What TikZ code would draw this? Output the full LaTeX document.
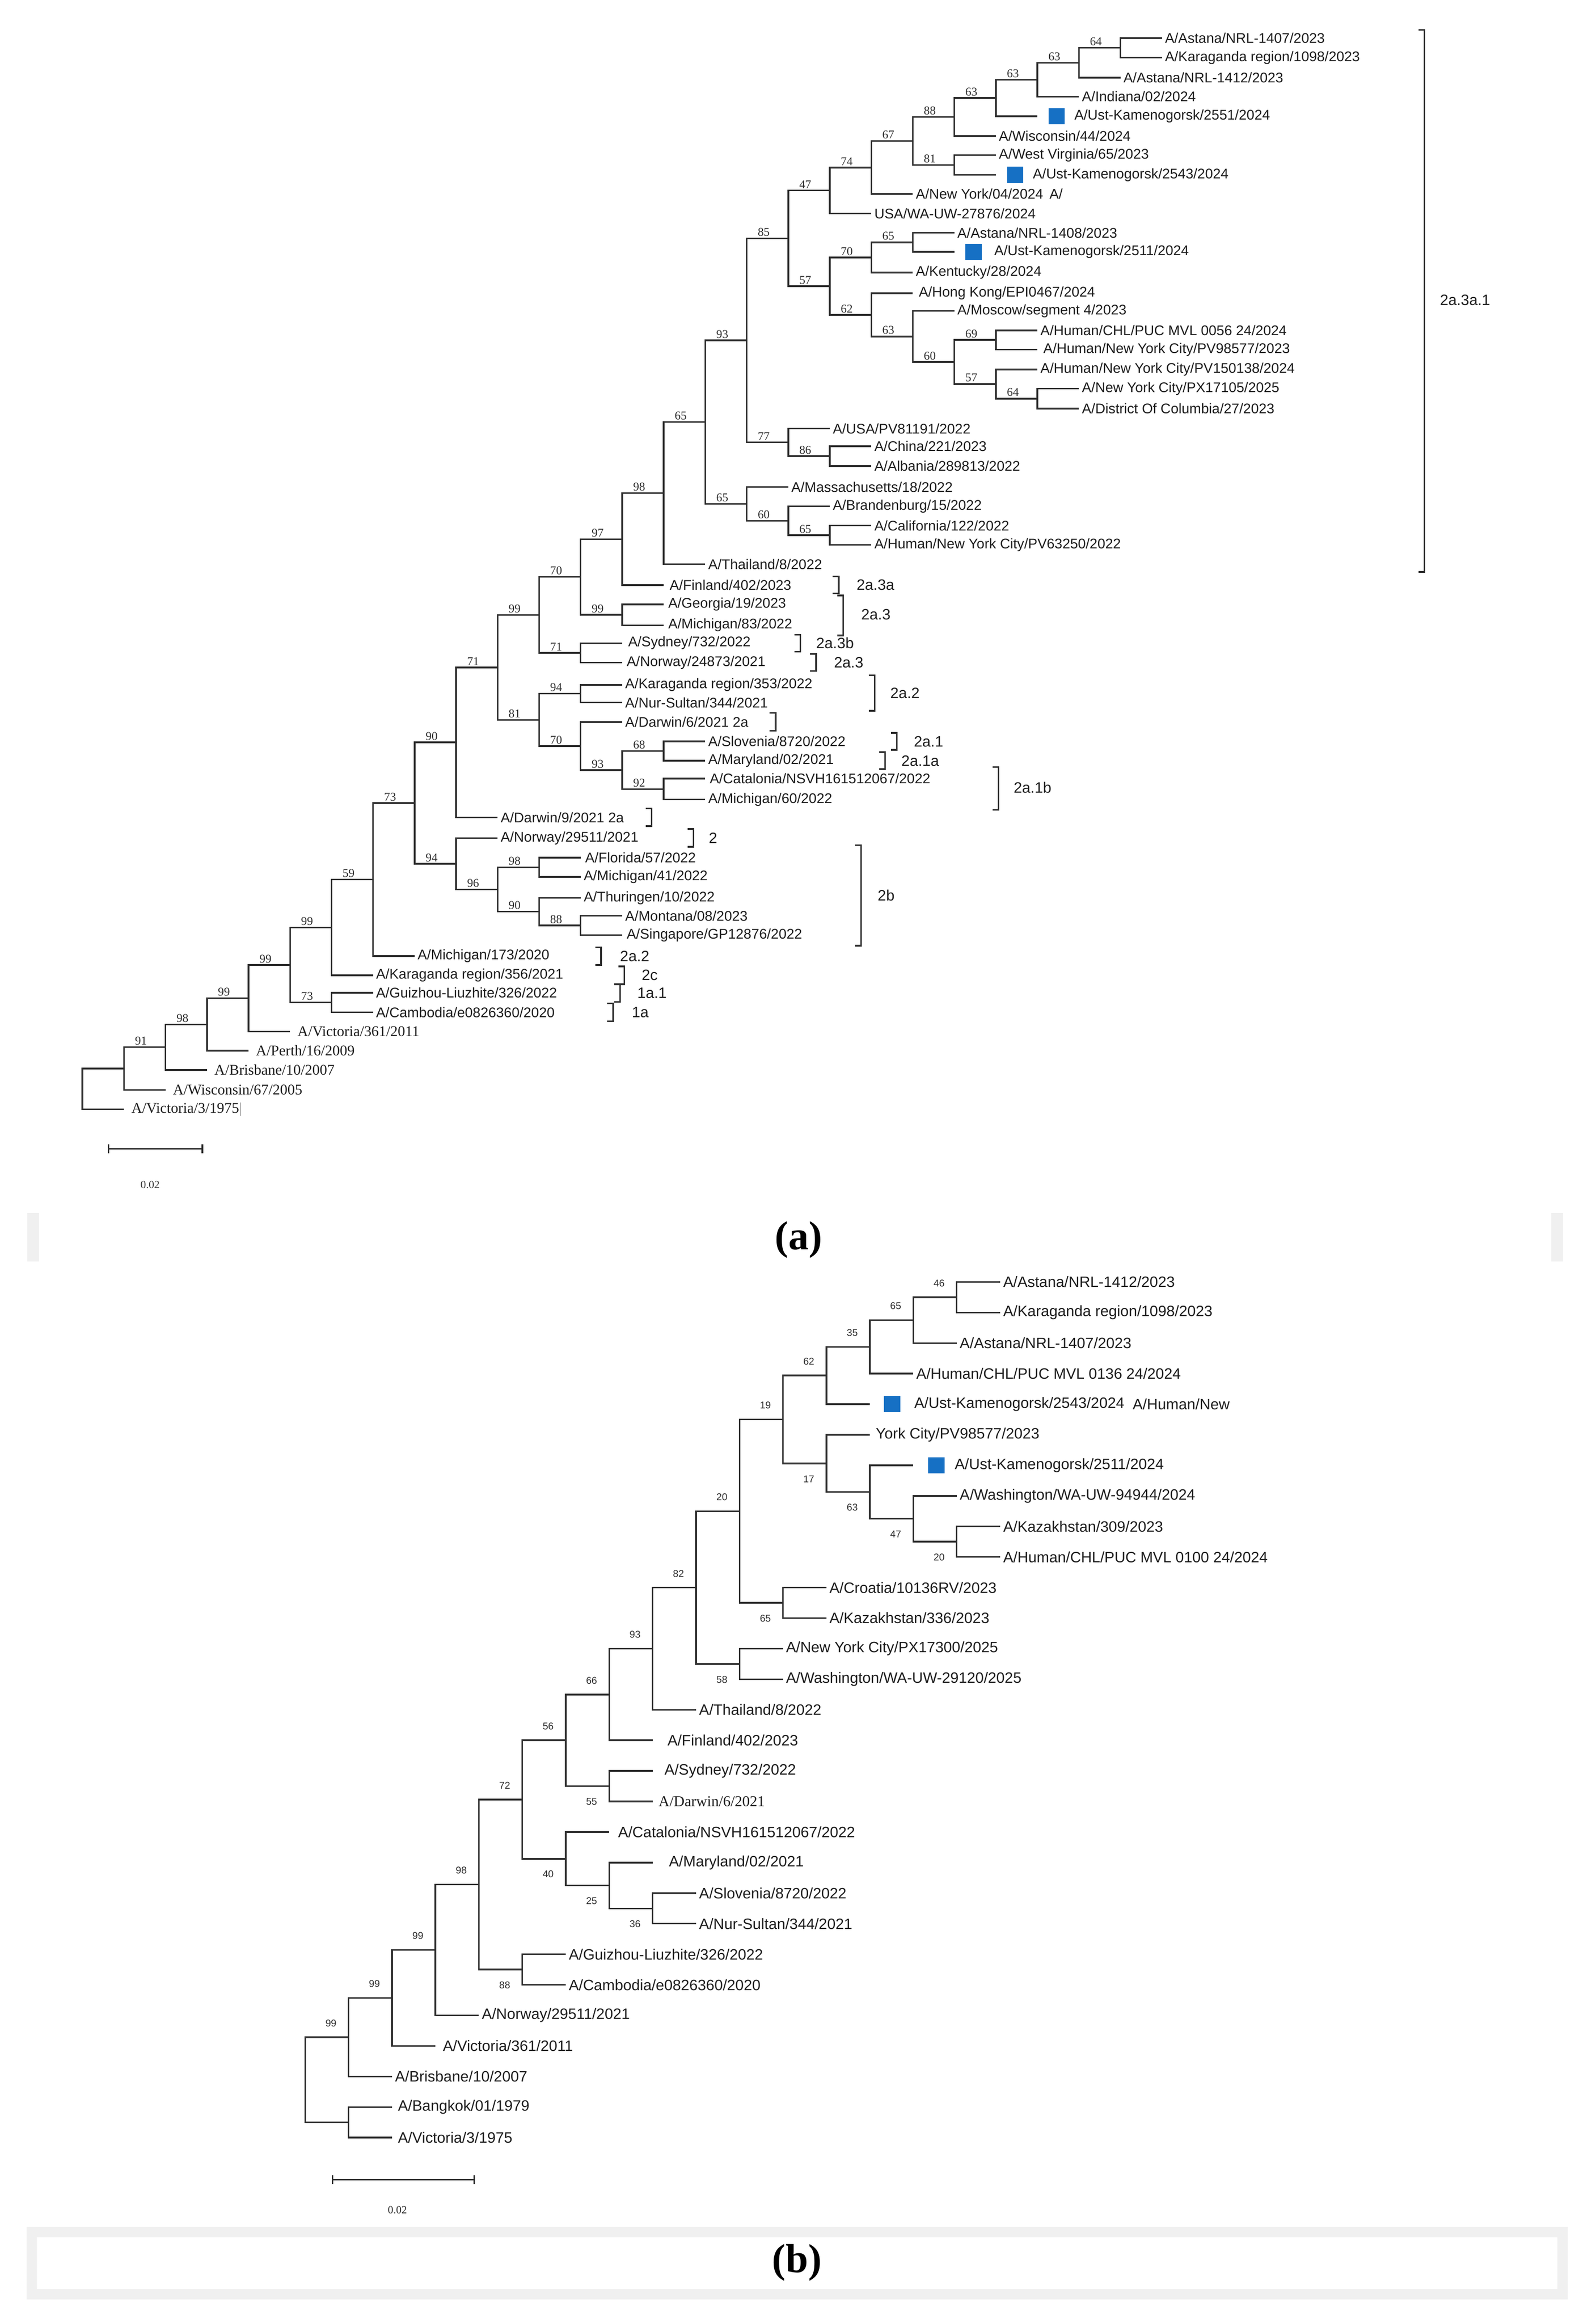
\documentclass[tikz,border=0pt]{standalone}
\usepackage{fontspec}
\setmainfont{Liberation Serif}
\setsansfont{Liberation Sans}
\usetikzlibrary{calc}
\definecolor{brc}{HTML}{2E2E2E}
\definecolor{txc}{HTML}{1E1E1E}
\definecolor{sqc}{HTML}{1670C4}
\definecolor{gbar}{HTML}{F0F0F0}
\newcommand\tXa[1]{{55.8+28.1*#1}}
\newcommand\tXb[1]{{206.5+29.4*#1}}
\newcommand\tYb[1]{{867.5+20.68*#1}}
\newcommand\tLf[5][2]{\pgfmathsetmacro\myTx{#3}\coordinate (#2) at (\myTx,#4);
  \node[lab,anchor=west] (t#2) at ([xshift=#1mm]#2) {#5};}
\newcommand\tLfS[5][5]{\pgfmathsetmacro\myTx{#3}\coordinate (#2) at (\myTx,#4);
  \node[labs,anchor=west] (t#2) at ([xshift=#1mm]#2) {#5};}
\newcommand\tSq[6]{\pgfmathsetmacro\myTx{#2}\coordinate (#1) at (\myTx,#3);
  \node[sqr] (s#1) at ([xshift=#4mm]#1) {};
  \node[lab,anchor=west] (t#1) at ([xshift=#5mm]#1) {#6};}
\newcommand\tIn[4]{\pgfmathsetmacro\myTx{#2}\path ($(#3)!.5!(#4)$) coordinate (#1m);
  \coordinate (#1) at (\myTx,0 |- #1m);}
\newcommand\tE[2]{\draw[brl] (#1) |- (#2);}
\newcommand\tEA[3]{\draw[brl] (#1) |- (#2); \node[bsa,anchor=south] at ($(#1 |- #2)+(11.5,-1.4)$) {#3};}
\newcommand\tEU[3]{\draw[brl] (#1) |- (#2); \node[bsb] at ($(#1 |- #2)+(17.5,-9.5)$) {#3};}
\newcommand\tED[3]{\draw[brl] (#1) |- (#2); \node[bsb] at ($(#1 |- #2)+(17.5,10.5)$) {#3};}
\newcommand\tBr[3]{\draw[brl] (#1-4,#2) -- (#1,#2) -- (#1,#3) -- (#1-4,#3);}
\begin{document}
\begin{tikzpicture}[x=0.1cm,y=-0.1cm,
  brl/.style={draw=brc,line width=0.11cm},
  lab/.style={inner sep=0pt,text=txc,font=\sffamily\fontsize{27}{30}\selectfont},
  labs/.style={inner sep=0pt,text=txc,font=\rmfamily\fontsize{28.5}{31}\selectfont},
  sqr/.style={fill=sqc,draw=none,inner sep=0pt,minimum width=1.1cm,minimum height=1.1cm,anchor=west},
  bsa/.style={inner sep=0pt,text=brc,font=\rmfamily\fontsize{23}{25}\selectfont},
  bsb/.style={inner sep=0pt,text=brc,font=\sffamily\fontsize{19}{21}\selectfont},
  brt/.style={inner sep=0pt,anchor=west,text=txc,font=\sffamily\fontsize{29}{31}\selectfont},
  captxt/.style={inner sep=0pt,text=black,font=\rmfamily\bfseries\fontsize{78}{80}\selectfont},
  scl/.style={inner sep=0pt,text=brc,font=\rmfamily\fontsize{21}{23}\selectfont}]
\useasboundingbox (0,0) rectangle (1080,1572);
\fill[white] (0,0) rectangle (1080,1572);
% ---------------- tree (a) leaves
\tLf{a1}{\tXa{26}}{25.8}{A/Astana/NRL-1407/2023}
\tLf{a2}{\tXa{26}}{39}{A/Karaganda region/1098/2023}
\tLf{a3}{\tXa{25}}{52.5}{A/Astana/NRL-1412/2023}
\tLf{a4}{\tXa{24}}{65.4}{A/Indiana/02/2024}
\tSq{a5}{\tXa{23}}{78.7}{7.5}{25}{A/Ust-Kamenogorsk/2551/2024}
\tLf{a6}{\tXa{22}}{92}{A/Wisconsin/44/2024}
\tLf{a7}{\tXa{22}}{105}{A/West Virginia/65/2023}
\tSq{a8}{\tXa{22}}{118.3}{7.5}{25}{A/Ust-Kamenogorsk/2543/2024}
\tLf{a9}{\tXa{20}}{131.3}{A/New York/04/2024\hspace{0.45em}A/}
\tLf{a10}{\tXa{19}}{144.5}{USA/WA-UW-27876/2024}
\tLf{a11}{\tXa{21}}{157.6}{A/Astana/NRL-1408/2023}
\tSq{a12}{\tXa{21}}{170.4}{7.5}{27}{A/Ust-Kamenogorsk/2511/2024}
\tLf{a13}{\tXa{20}}{184.5}{A/Kentucky/28/2024}
\tLf[4]{a14}{\tXa{20}}{198.5}{A/Hong Kong/EPI0467/2024}
\tLf{a15}{\tXa{21}}{210.4}{A/Moscow/segment 4/2023}
\tLf{a16}{\tXa{23}}{223.6}{A/Human/CHL/PUC MVL 0056 24/2024}
\tLf[4]{a17}{\tXa{23}}{236.5}{A/Human/New York City/PV98577/2023}
\tLf{a18}{\tXa{23}}{250}{A/Human/New York City/PV150138/2024}
\tLf{a19}{\tXa{24}}{263}{A/New York City/PX17105/2025}
\tLf{a20}{\tXa{24}}{276.5}{A/District Of Columbia/27/2023}
\tLf{a21}{\tXa{18}}{290}{A/USA/PV81191/2022}
\tLf{a22}{\tXa{19}}{302}{A/China/221/2023}
\tLf{a23}{\tXa{19}}{315.3}{A/Albania/289813/2022}
\tLf{a24}{\tXa{17}}{329.5}{A/Massachusetts/18/2022}
\tLf{a25}{\tXa{18}}{342.6}{A/Brandenburg/15/2022}
\tLf{a26}{\tXa{19}}{355.7}{A/California/122/2022}
\tLf{a27}{\tXa{19}}{368.7}{A/Human/New York City/PV63250/2022}
\tLf{a28}{\tXa{15}}{381.8}{A/Thailand/8/2022}
\tLf[4]{a29}{\tXa{14}}{395.9}{A/Finland/402/2023}
\tLf[3]{a30}{\tXa{14}}{409}{A/Georgia/19/2023}
\tLf[3]{a31}{\tXa{14}}{423.1}{A/Michigan/83/2022}
\tLf[4]{a32}{\tXa{13}}{435.2}{A/Sydney/732/2022}
\tLf[3]{a33}{\tXa{13}}{448.3}{A/Norway/24873/2021}
\tLf{a34}{\tXa{13}}{463.4}{A/Karaganda region/353/2022}
\tLf{a35}{\tXa{13}}{475.5}{A/Nur-Sultan/344/2021}
\tLf{a36}{\tXa{13}}{488.6}{A/Darwin/6/2021 2a}
\tLf{a37}{\tXa{15}}{501.7}{A/Slovenia/8720/2022}
\tLf{a38}{\tXa{15}}{514.8}{A/Maryland/02/2021}
\tLf[3]{a39}{\tXa{15}}{526.9}{A/Catalonia/NSVH161512067/2022}
\tLf{a40}{\tXa{15}}{541}{A/Michigan/60/2022}
\tLf{a41}{\tXa{10}}{553.1}{A/Darwin/9/2021 2a}
\tLf{a42}{\tXa{10}}{567.2}{A/Norway/29511/2021}
\tLf[3]{a43}{\tXa{12}}{580.4}{A/Florida/57/2022}
\tLf{a44}{\tXa{12}}{593.5}{A/Michigan/41/2022}
\tLf{a45}{\tXa{12}}{607.6}{A/Thuringen/10/2022}
\tLf{a46}{\tXa{13}}{619.7}{A/Montana/08/2023}
\tLf[3]{a47}{\tXa{13}}{632.8}{A/Singapore/GP12876/2022}
\tLf{a48}{\tXa{8}}{646.9}{A/Michigan/173/2020}
\tLf{a49}{\tXa{7}}{660}{A/Karaganda region/356/2021}
\tLf{a50}{\tXa{7}}{671.8}{A/Guizhou-Liuzhite/326/2022}
\tLf{a51}{\tXa{7}}{685}{A/Cambodia/e0826360/2020}
\tLfS{a52}{\tXa{5}}{698}{A/Victoria/361/2011}
\tLfS{a53}{\tXa{4}}{711}{A/Perth/16/2009}
\tLfS{a54}{\tXa{3}}{724}{A/Brisbane/10/2007}
\tLfS{a55}{\tXa{2}}{737.5}{A/Wisconsin/67/2005}
\tLfS{a56}{\tXa{1}}{750.7}{A/Victoria/3/1975{\color{black!40}\textbar}}
% internal (a)
\tIn{AT}{\tXa{25}}{a1}{a2}
\tIn{AS}{\tXa{24}}{AT}{a3}
\tIn{AR}{\tXa{23}}{AS}{a4}
\tIn{AQ}{\tXa{22}}{AR}{a5}
\tIn{AO}{\tXa{21}}{AQ}{a6}
\tIn{AP}{\tXa{21}}{a7}{a8}
\tIn{AN}{\tXa{20}}{AO}{AP}
\tIn{AM}{\tXa{19}}{AN}{a9}
\tIn{AC}{\tXa{18}}{AM}{a10}
\tIn{AG}{\tXa{20}}{a11}{a12}
\tIn{AE}{\tXa{19}}{AG}{a13}
\tIn{AJ}{\tXa{22}}{a16}{a17}
\tIn{AL}{\tXa{23}}{a19}{a20}
\tIn{AK}{\tXa{22}}{a18}{AL}
\tIn{AI}{\tXa{21}}{AJ}{AK}
\tIn{AH}{\tXa{20}}{a15}{AI}
\tIn{AF}{\tXa{19}}{a14}{AH}
\tIn{AD}{\tXa{18}}{AE}{AF}
\tIn{Z}{\tXa{17}}{AC}{AD}
\tIn{AB}{\tXa{18}}{a22}{a23}
\tIn{AA}{\tXa{17}}{a21}{AB}
\tIn{V}{\tXa{16}}{Z}{AA}
\tIn{Y}{\tXa{18}}{a26}{a27}
\tIn{X}{\tXa{17}}{a25}{Y}
\tIn{W}{\tXa{16}}{a24}{X}
\tIn{U}{\tXa{15}}{V}{W}
\tIn{T}{\tXa{14}}{U}{a28}
\tIn{R}{\tXa{13}}{T}{a29}
\tIn{S}{\tXa{13}}{a30}{a31}
\tIn{P}{\tXa{12}}{R}{S}
\tIn{Q}{\tXa{12}}{a32}{a33}
\tIn{N}{\tXa{11}}{P}{Q}
\tIn{NB}{\tXa{12}}{a34}{a35}
\tIn{NS}{\tXa{14}}{a37}{a38}
\tIn{NT}{\tXa{14}}{a39}{a40}
\tIn{NU}{\tXa{13}}{NS}{NT}
\tIn{NC}{\tXa{12}}{a36}{NU}
\tIn{O}{\tXa{11}}{NB}{NC}
\tIn{M}{\tXa{10}}{N}{O}
\tIn{J}{\tXa{9}}{M}{a41}
\tIn{NF}{\tXa{11}}{a43}{a44}
\tIn{NH}{\tXa{12}}{a46}{a47}
\tIn{NG}{\tXa{11}}{a45}{NH}
\tIn{NV}{\tXa{10}}{NF}{NG}
\tIn{K}{\tXa{9}}{a42}{NV}
\tIn{I}{\tXa{8}}{J}{K}
\tIn{H}{\tXa{7}}{I}{a48}
\tIn{F}{\tXa{6}}{H}{a49}
\tIn{G}{\tXa{6}}{a50}{a51}
\tIn{E}{\tXa{5}}{F}{G}
\tIn{D}{\tXa{4}}{E}{a52}
\tIn{C}{\tXa{3}}{D}{a53}
\tIn{B}{\tXa{2}}{C}{a54}
\tIn{A}{\tXa{1}}{B}{a55}
\tIn{RT}{\tXa{0}}{A}{a56}
% edges (a)
\tE{RT}{A}\tE{RT}{a56}
\tEA{A}{B}{91}\tE{A}{a55}
\tEA{B}{C}{98}\tE{B}{a54}
\tEA{C}{D}{99}\tE{C}{a53}
\tEA{D}{E}{99}\tE{D}{a52}
\tEA{E}{F}{99}\tEA{E}{G}{73}
\tE{G}{a50}\tE{G}{a51}
\tEA{F}{H}{59}\tE{F}{a49}
\tEA{H}{I}{73}\tE{H}{a48}
\tEA{I}{J}{90}\tEA{I}{K}{94}
\tE{K}{a42}\tEA{K}{NV}{96}
\tEA{NV}{NF}{98}\tEA{NV}{NG}{90}
\tE{NF}{a43}\tE{NF}{a44}
\tE{NG}{a45}\tEA{NG}{NH}{88}
\tE{NH}{a46}\tE{NH}{a47}
\tEA{J}{M}{71}\tE{J}{a41}
\tEA{M}{N}{99}\tEA{M}{O}{81}
\tEA{O}{NB}{94}\tEA{O}{NC}{70}
\tE{NB}{a34}\tE{NB}{a35}
\tE{NC}{a36}\tEA{NC}{NU}{93}
\tEA{NU}{NS}{68}\tEA{NU}{NT}{92}
\tE{NS}{a37}\tE{NS}{a38}\tE{NT}{a39}\tE{NT}{a40}
\tEA{N}{P}{70}\tEA{N}{Q}{71}
\tE{Q}{a32}\tE{Q}{a33}
\tEA{P}{R}{97}\tEA{P}{S}{99}
\tE{S}{a30}\tE{S}{a31}
\tEA{R}{T}{98}\tE{R}{a29}
\tEA{T}{U}{65}\tE{T}{a28}
\tEA{U}{V}{93}\tEA{U}{W}{65}
\tE{W}{a24}\tEA{W}{X}{60}
\tE{X}{a25}\tEA{X}{Y}{65}
\tE{Y}{a26}\tE{Y}{a27}
\tEA{V}{Z}{85}\tEA{V}{AA}{77}
\tE{AA}{a21}\tEA{AA}{AB}{86}
\tE{AB}{a22}\tE{AB}{a23}
\tEA{Z}{AC}{47}\tEA{Z}{AD}{57}
\tEA{AC}{AM}{74}\tE{AC}{a10}
\tEA{AM}{AN}{67}\tE{AM}{a9}
\tEA{AN}{AO}{88}\tEA{AN}{AP}{81}
\tE{AP}{a7}\tE{AP}{a8}
\tEA{AO}{AQ}{63}\tE{AO}{a6}
\tEA{AQ}{AR}{63}\tE{AQ}{a5}
\tEA{AR}{AS}{63}\tE{AR}{a4}
\tEA{AS}{AT}{64}\tE{AS}{a3}
\tE{AT}{a1}\tE{AT}{a2}
\tEA{AD}{AE}{70}\tEA{AD}{AF}{62}
\tEA{AE}{AG}{65}\tE{AE}{a13}
\tE{AG}{a11}\tE{AG}{a12}
\tE{AF}{a14}\tEA{AF}{AH}{63}
\tE{AH}{a15}\tEA{AH}{AI}{60}
\tEA{AI}{AJ}{69}\tEA{AI}{AK}{57}
\tE{AJ}{a16}\tE{AJ}{a17}
\tE{AK}{a18}\tEA{AK}{AL}{64}
\tE{AL}{a19}\tE{AL}{a20}
% brackets (a)
\tBr{964}{20.3}{387}\node[brt] (k1) at (974.5,203) {2a.3a.1};
\tBr{567.6}{390}{401.5}\node[brt] (k2) at (579.7,395.9) {2a.3a};
\tBr{570.6}{403}{430}\node[brt] (k3) at (582.8,416) {2a.3};
\tBr{541.6}{429.5}{441}\node[brt] (k4) at (552.3,435.2) {2a.3b};
\tBr{552.3}{442.5}{454}\node[brt] (k5) at (564.4,448.3) {2a.3};
\tBr{592}{457}{481}\node[brt] (k6) at (602.5,469) {2a.2};
\tBr{524.9}{482.5}{494.5}
\tBr{607}{496}{507.5}\node[brt] (k7) at (618.5,501.7) {2a.1};
\tBr{599}{509}{520.5}\node[brt] (k8) at (610,514.8) {2a.1a};
\tBr{675.8}{519}{548}\node[brt] (k9) at (686,533) {2a.1b};
\tBr{441}{547}{559}
\tBr{469.3}{561}{573}\node[brt] (k10) at (479.7,567.2) {2};
\tBr{582.8}{572}{640}\node[brt] (k11) at (594,606) {2b};
\tBr{406.8}{641}{653}\node[brt] (k12) at (419.6,647) {2a.2};
\tBr{422.6}{654}{666}\node[brt] (k13) at (434.3,660) {2c};
\tBr{419.6}{666}{678}\node[brt] (k14) at (431.3,672) {1a.1};
\tBr{415}{679}{691}\node[brt] (k15) at (427.6,685) {1a};
% scale (a)
\draw[brl] (73.5,777.4) -- (137,777.4);
\draw[brl] (73.5,774.4) -- (73.5,780.4);
\draw[brl] (137,774.4) -- (137,780.4);
\node[scl] (sa) at (101.6,801.8) {0.02};
% caption (a)
\fill[gbar] (18.5,821) rectangle (26.5,853.6);
\fill[gbar] (1050,821) rectangle (1058,853.6);
\node[captxt] (capa) at (540.5,839) {(a)};
% ---------------- tree (b)
\tikzset{lab/.style={inner sep=0pt,text=txc,font=\sffamily\fontsize{29}{31}\selectfont},
  labs/.style={inner sep=0pt,text=txc,font=\rmfamily\fontsize{29}{31}\selectfont}}
\tLf{b0}{\tXb{16}}{\tYb{0}}{A/Astana/NRL-1412/2023}
\tLf{b1}{\tXb{16}}{\tYb{1}}{A/Karaganda region/1098/2023}
\tLf{b2}{\tXb{15}}{\tYb{2}}{A/Astana/NRL-1407/2023}
\tLf{b3}{\tXb{14}}{\tYb{3}}{A/Human/CHL/PUC MVL 0136 24/2024}
\tSq{b4}{\tXb{13}}{\tYb{4}}{9.6}{30}{A/Ust-Kamenogorsk/2543/2024}
\node[lab,anchor=west] (tb4x) at (766.5,\tYb{4}) {A/Human/New};
\tLf[4]{b5}{\tXb{13}}{\tYb{5}}{York City/PV98577/2023}
\tSq{b6}{\tXb{14}}{\tYb{6}}{10}{28}{A/Ust-Kamenogorsk/2511/2024}
\tLf{b7}{\tXb{15}}{\tYb{7}}{A/Washington/WA-UW-94944/2024}
\tLf{b8}{\tXb{16}}{\tYb{8}}{A/Kazakhstan/309/2023}
\tLf{b9}{\tXb{16}}{\tYb{9}}{A/Human/CHL/PUC MVL 0100 24/2024}
\tLf{b10}{\tXb{12}}{\tYb{10}}{A/Croatia/10136RV/2023}
\tLf{b11}{\tXb{12}}{\tYb{11}}{A/Kazakhstan/336/2023}
\tLf{b12}{\tXb{11}}{\tYb{12}}{A/New York City/PX17300/2025}
\tLf{b13}{\tXb{11}}{\tYb{13}}{A/Washington/WA-UW-29120/2025}
\tLf{b14}{\tXb{9}}{\tYb{14}}{A/Thailand/8/2022}
\tLf[10]{b15}{\tXb{8}}{\tYb{15}}{A/Finland/402/2023}
\tLf[8]{b16}{\tXb{8}}{\tYb{16}}{A/Sydney/732/2022}
\tLfS[4]{b17}{\tXb{8}}{\tYb{17}}{A/Darwin/6/2021}
\tLf[6]{b18}{\tXb{7}}{\tYb{18}}{A/Catalonia/NSVH161512067/2022}
\tLf[11]{b19}{\tXb{8}}{\tYb{19}}{A/Maryland/02/2021}
\tLf{b20}{\tXb{9}}{\tYb{20}}{A/Slovenia/8720/2022}
\tLf{b21}{\tXb{9}}{\tYb{21}}{A/Nur-Sultan/344/2021}
\tLf{b22}{\tXb{6}}{\tYb{22}}{A/Guizhou-Liuzhite/326/2022}
\tLf{b23}{\tXb{6}}{\tYb{23}}{A/Cambodia/e0826360/2020}
\tLf{b24}{\tXb{4}}{\tYb{24}}{A/Norway/29511/2021}
\tLf[5]{b25}{\tXb{3}}{\tYb{25}}{A/Victoria/361/2011}
\tLf{b26}{\tXb{2}}{\tYb{26}}{A/Brisbane/10/2007}
\tLf[4]{b27}{\tXb{2}}{\tYb{27}}{A/Bangkok/01/1979}
\tLf[4]{b28}{\tXb{2}}{\tYb{28}}{A/Victoria/3/1975}
% internal (b)
\tIn{P15}{\tXb{15}}{b0}{b1}
\tIn{P14}{\tXb{14}}{P15}{b2}
\tIn{P13}{\tXb{13}}{P14}{b3}
\tIn{P12}{\tXb{12}}{P13}{b4}
\tIn{Q15}{\tXb{15}}{b8}{b9}
\tIn{Q14}{\tXb{14}}{b7}{Q15}
\tIn{Q13}{\tXb{13}}{b6}{Q14}
\tIn{Q12}{\tXb{12}}{b5}{Q13}
\tIn{P11}{\tXb{11}}{P12}{Q12}
\tIn{Q11}{\tXb{11}}{b10}{b11}
\tIn{P10}{\tXb{10}}{P11}{Q11}
\tIn{Q10}{\tXb{10}}{b12}{b13}
\tIn{P9}{\tXb{9}}{P10}{Q10}
\tIn{P8}{\tXb{8}}{P9}{b14}
\tIn{P7}{\tXb{7}}{P8}{b15}
\tIn{Q7}{\tXb{7}}{b16}{b17}
\tIn{P6}{\tXb{6}}{P7}{Q7}
\tIn{R8}{\tXb{8}}{b20}{b21}
\tIn{R7}{\tXb{7}}{b19}{R8}
\tIn{Q6}{\tXb{6}}{b18}{R7}
\tIn{P5}{\tXb{5}}{P6}{Q6}
\tIn{Q5}{\tXb{5}}{b22}{b23}
\tIn{P4}{\tXb{4}}{P5}{Q5}
\tIn{P3}{\tXb{3}}{P4}{b24}
\tIn{P2}{\tXb{2}}{P3}{b25}
\tIn{P1}{\tXb{1}}{P2}{b26}
\tIn{Q1}{\tXb{1}}{b27}{b28}
\tIn{RB}{\tXb{0}}{P1}{Q1}
% edges (b)
\tEU{RB}{P1}{99}\tE{RB}{Q1}
\tE{Q1}{b27}\tE{Q1}{b28}
\tEU{P1}{P2}{99}\tE{P1}{b26}
\tEU{P2}{P3}{99}\tE{P2}{b25}
\tEU{P3}{P4}{98}\tE{P3}{b24}
\tEU{P4}{P5}{72}\tED{P4}{Q5}{88}
\tE{Q5}{b22}\tE{Q5}{b23}
\tEU{P5}{P6}{56}\tED{P5}{Q6}{40}
\tE{Q6}{b18}\tED{Q6}{R7}{25}
\tE{R7}{b19}\tED{R7}{R8}{36}
\tE{R8}{b20}\tE{R8}{b21}
\tEU{P6}{P7}{66}\tED{P6}{Q7}{55}
\tE{Q7}{b16}\tE{Q7}{b17}
\tEU{P7}{P8}{93}\tE{P7}{b15}
\tEU{P8}{P9}{82}\tE{P8}{b14}
\tEU{P9}{P10}{20}\tED{P9}{Q10}{58}
\tE{Q10}{b12}\tE{Q10}{b13}
\tEU{P10}{P11}{19}\tED{P10}{Q11}{65}
\tE{Q11}{b10}\tE{Q11}{b11}
\tEU{P11}{P12}{62}\tED{P11}{Q12}{17}
\tEU{P12}{P13}{35}\tE{P12}{b4}
\tEU{P13}{P14}{65}\tE{P13}{b3}
\tEU{P14}{P15}{46}\tE{P14}{b2}
\tE{P15}{b0}\tE{P15}{b1}
\tE{Q12}{b5}\tED{Q12}{Q13}{63}
\tE{Q13}{b6}\tED{Q13}{Q14}{47}
\tE{Q14}{b7}\tED{Q14}{Q15}{20}
\tE{Q15}{b8}\tE{Q15}{b9}
% scale (b)
\draw[brl] (225,1475) -- (321,1475);
\draw[brl] (225,1472) -- (225,1478);
\draw[brl] (321,1472) -- (321,1478);
\node[scl] (sb) at (269,1495.6) {0.02};
% caption (b)
\fill[gbar,even odd rule] (18,1507) rectangle (1061,1556) (25,1514) rectangle (1054,1549);
\node[captxt] (capb) at (539.4,1531) {(b)};
\end{tikzpicture}
\end{document}
